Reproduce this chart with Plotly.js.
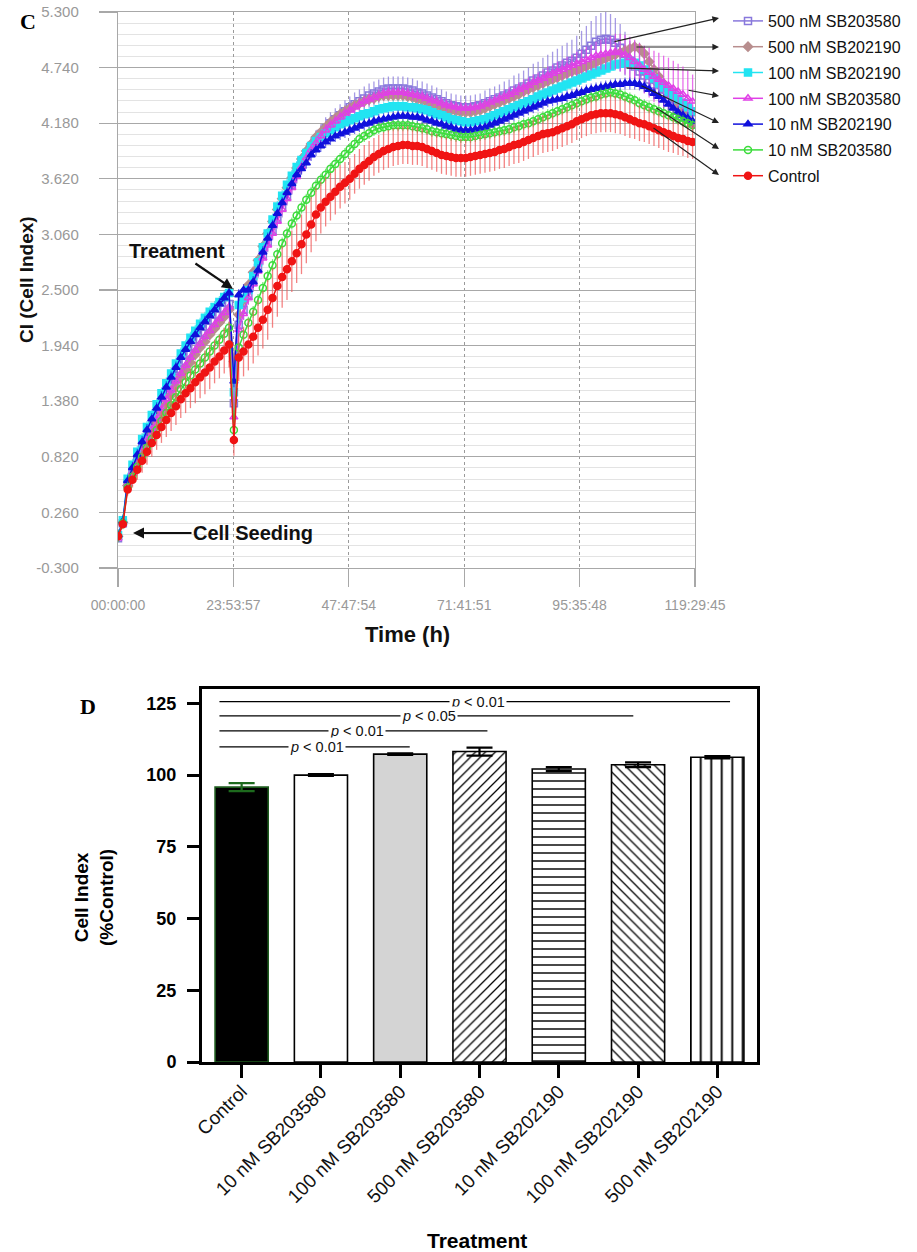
<!DOCTYPE html>
<html><head><meta charset="utf-8">
<script src="https://cdn.plot.ly/plotly-3.0.1.min.js"></script>
<style>html,body{margin:0;padding:0;background:#fff}#chart{width:917px;height:1252px}</style>
</head><body><div id="chart"></div>
<script>
// ---------------- Panel C data (time course) ----------------
const timeHours = [0,1,2,3,4,5,6,7,8,9,10,11,12,13,14,15,16,17,18,19,20,21,22,23,24,25,26,27,28,29,30,31,32,33,34,35,36,37,38,39,40,41,42,43,44,45,46,47,48,49,50,51,52,53,54,55,56,57,58,59,60,61,62,63,64,65,66,67,68,69,70,71,72,73,74,75,76,77,78,79,80,81,82,83,84,85,86,87,88,89,90,91,92,93,94,95,96,97,98,99,100,101,102,103,104,105,106,107,108,109,110,111,112,113,114,115,116,117,118,119];
const timeTickVals = [0, 23.89917, 47.79833, 71.6975, 95.59667, 119.49583];
const timeTickText = ['00:00:00','23:53:57','47:47:54','71:41:51','95:35:48','119:29:45'];
const ciTickVals = [-0.3,0.26,0.82,1.38,1.94,2.5,3.06,3.62,4.18,4.74,5.3];
const ciTickText = ['-0.300','0.260','0.820','1.380','1.940','2.500','3.060','3.620','4.180','4.740','5.300'];

const sb203580_500 = [0.00,0.15,0.55,0.67,0.78,0.90,1.01,1.11,1.22,1.32, 1.42,1.52,1.61,1.70,1.78,1.86,1.93,2.00,2.06,2.12, 2.18,2.24,2.30,2.36, 1.36, 2.15,2.30,2.45,2.58,2.72, 2.85,2.98,3.10,3.22,3.33,3.45,3.56,3.67,3.77,3.86, 3.94,4.01,4.07,4.13,4.18,4.22,4.26,4.30,4.34,4.37, 4.40,4.43,4.46,4.48,4.50,4.52,4.53,4.53,4.53,4.53, 4.52,4.51,4.49,4.48,4.46,4.44,4.42,4.40,4.38,4.36, 4.35,4.34,4.34,4.34,4.35,4.36,4.38,4.40,4.42,4.44, 4.46,4.48,4.51,4.53,4.55,4.58,4.61,4.63,4.66,4.69, 4.71,4.74,4.76,4.79,4.81,4.84,4.88,4.92,4.96,5.00, 5.02,5.03,5.02,4.99,4.94,4.88,4.81,4.75,4.70,4.66, 4.62,4.57,4.52,4.47,4.42,4.37,4.32,4.28,4.25,4.22];
const sb203580_500Err = [0.01,0.02,0.04,0.05,0.06,0.06,0.07,0.07,0.08,0.08, 0.08,0.08,0.08,0.09,0.09,0.09,0.09,0.09,0.09,0.09, 0.09,0.09,0.09,0.09, 0.10, 0.10,0.10,0.10,0.10,0.10, 0.10,0.10,0.10,0.10,0.10,0.10,0.10,0.10,0.10,0.10, 0.10,0.10,0.10,0.11,0.11,0.11,0.11,0.11,0.11,0.12, 0.12,0.12,0.12,0.12,0.12,0.12,0.12,0.12,0.12,0.12, 0.12,0.12,0.12,0.12,0.12,0.12,0.12,0.12,0.12,0.12, 0.12,0.12,0.12,0.12,0.12,0.12,0.13,0.13,0.13,0.13, 0.14,0.14,0.15,0.15,0.16,0.16,0.17,0.17,0.18,0.18, 0.19,0.19,0.20,0.20,0.21,0.22,0.23,0.24,0.25,0.26, 0.27,0.27,0.26,0.25,0.24,0.22,0.20,0.18,0.17,0.16, 0.15,0.15,0.14,0.14,0.13,0.13,0.12,0.12,0.12,0.12];
const sb202190_500 = [0.02,0.16,0.53,0.64,0.75,0.86,0.96,1.06,1.16,1.26, 1.35,1.44,1.53,1.62,1.70,1.77,1.85,1.92,1.98,2.05, 2.11,2.17,2.23,2.30, 1.78, 2.25,2.40,2.55,2.68,2.80, 2.94,3.07,3.19,3.31,3.42,3.53,3.63,3.73,3.82,3.90, 3.97,4.04,4.09,4.14,4.19,4.23,4.27,4.30,4.33,4.36, 4.38,4.40,4.42,4.43,4.45,4.46,4.46,4.46,4.46,4.46, 4.45,4.44,4.42,4.41,4.39,4.37,4.36,4.34,4.32,4.31, 4.30,4.29,4.29,4.29,4.30,4.31,4.33,4.35,4.37,4.39, 4.41,4.43,4.45,4.47,4.50,4.52,4.54,4.56,4.58,4.60, 4.62,4.64,4.66,4.68,4.70,4.71,4.73,4.75,4.77,4.79, 4.81,4.83,4.85,4.87,4.89,4.91,4.93,4.95,4.93,4.88, 4.80,4.72,4.65,4.58,4.51,4.44,4.37,4.30,4.23,4.17];
const sb202190_100 = [0.03,0.18,0.60,0.74,0.87,1.00,1.12,1.24,1.35,1.46, 1.56,1.66,1.76,1.86,1.94,2.02,2.09,2.16,2.22,2.28, 2.33,2.38,2.43,2.47, 1.47, 2.35,2.42,2.50,2.64,2.78, 2.93,3.07,3.21,3.34,3.45,3.56,3.65,3.74,3.81,3.88, 3.95,4.00,4.04,4.08,4.11,4.14,4.17,4.19,4.21,4.23, 4.25,4.27,4.28,4.30,4.32,4.33,4.34,4.35,4.35,4.35, 4.34,4.34,4.33,4.32,4.31,4.29,4.27,4.26,4.24,4.22, 4.21,4.20,4.19,4.19,4.20,4.21,4.22,4.24,4.26,4.28, 4.30,4.32,4.34,4.36,4.38,4.40,4.42,4.45,4.47,4.49, 4.51,4.53,4.55,4.57,4.59,4.61,4.63,4.65,4.67,4.69, 4.71,4.73,4.75,4.77,4.78,4.79,4.80,4.79,4.76,4.72, 4.67,4.63,4.58,4.54,4.50,4.46,4.42,4.38,4.34,4.30];
const sb203580_100 = [0.00,0.15,0.54,0.66,0.77,0.88,0.99,1.10,1.20,1.30, 1.40,1.49,1.58,1.66,1.74,1.82,1.89,1.96,2.03,2.09, 2.15,2.21,2.27,2.33, 1.22, 2.10,2.26,2.42,2.56,2.69, 2.82,2.95,3.07,3.19,3.31,3.42,3.53,3.64,3.74,3.83, 3.91,3.98,4.05,4.11,4.16,4.20,4.24,4.28,4.31,4.34, 4.37,4.40,4.42,4.44,4.46,4.48,4.49,4.49,4.49,4.49, 4.48,4.47,4.46,4.45,4.43,4.41,4.40,4.38,4.36,4.35, 4.34,4.33,4.33,4.33,4.34,4.35,4.37,4.39,4.41,4.43, 4.45,4.47,4.49,4.52,4.54,4.56,4.59,4.61,4.63,4.66, 4.68,4.70,4.72,4.74,4.76,4.78,4.80,4.82,4.84,4.86, 4.87,4.88,4.89,4.90,4.89,4.87,4.84,4.80,4.76,4.72, 4.69,4.65,4.62,4.59,4.56,4.53,4.50,4.47,4.43,4.40];
const sb203580_100Err = [0.01,0.02,0.03,0.04,0.04,0.05,0.05,0.05,0.05,0.05, 0.05,0.05,0.05,0.05,0.05,0.05,0.05,0.05,0.05,0.05, 0.05,0.05,0.05,0.05, 0.06, 0.06,0.06,0.06,0.06,0.06, 0.06,0.06,0.06,0.06,0.06,0.06,0.06,0.06,0.06,0.06, 0.06,0.06,0.06,0.06,0.06,0.06,0.06,0.06,0.06,0.06, 0.06,0.06,0.06,0.06,0.06,0.06,0.06,0.06,0.06,0.06, 0.06,0.06,0.06,0.06,0.06,0.06,0.06,0.06,0.06,0.06, 0.06,0.06,0.06,0.06,0.06,0.06,0.06,0.06,0.06,0.06, 0.07,0.07,0.07,0.07,0.08,0.08,0.08,0.08,0.09,0.09, 0.09,0.10,0.10,0.11,0.11,0.12,0.12,0.13,0.13,0.14, 0.15,0.16,0.17,0.18,0.19,0.20,0.21,0.22,0.23,0.24, 0.25,0.26,0.27,0.27,0.28,0.28,0.28,0.28,0.28,0.27];
const sb202190_10 = [0.03,0.17,0.58,0.71,0.84,0.97,1.09,1.20,1.31,1.42, 1.52,1.62,1.72,1.82,1.90,1.98,2.05,2.12,2.18,2.24, 2.30,2.36,2.42,2.47, 1.58, 2.45,2.50,2.50,2.58,2.70, 2.88,3.02,3.15,3.27,3.38,3.48,3.57,3.66,3.72,3.78, 3.86,3.91,3.95,3.99,4.02,4.05,4.07,4.09,4.11,4.13, 4.15,4.17,4.18,4.20,4.21,4.22,4.23,4.24,4.25,4.25, 4.25,4.24,4.24,4.23,4.21,4.20,4.18,4.17,4.15,4.14, 4.12,4.11,4.11,4.11,4.12,4.13,4.14,4.16,4.18,4.20, 4.22,4.24,4.26,4.28,4.30,4.32,4.34,4.36,4.38,4.40, 4.41,4.42,4.43,4.45,4.46,4.48,4.49,4.51,4.52,4.53, 4.54,4.55,4.56,4.57,4.57,4.58,4.58,4.58,4.57,4.55, 4.52,4.48,4.45,4.41,4.37,4.33,4.29,4.26,4.23,4.20];
const sb203580_10 = [0.02,0.15,0.51,0.62,0.72,0.82,0.91,1.00,1.09,1.18, 1.26,1.34,1.42,1.50,1.57,1.64,1.70,1.76,1.82,1.88, 1.94,2.00,2.06,2.12, 1.09, 1.92,2.05,2.17,2.28,2.40, 2.52,2.64,2.75,2.86,2.97,3.07,3.17,3.25,3.33,3.41, 3.48,3.55,3.61,3.66,3.72,3.77,3.82,3.87,3.92,3.97, 4.02,4.05,4.08,4.11,4.13,4.14,4.15,4.16,4.16,4.16, 4.16,4.15,4.14,4.13,4.12,4.10,4.09,4.08,4.07,4.06, 4.05,4.04,4.04,4.04,4.05,4.06,4.07,4.08,4.09,4.10, 4.11,4.12,4.14,4.15,4.17,4.18,4.20,4.22,4.24,4.26, 4.28,4.30,4.32,4.34,4.36,4.38,4.40,4.42,4.44,4.45, 4.47,4.48,4.49,4.48,4.47,4.45,4.43,4.41,4.38,4.36, 4.34,4.32,4.30,4.28,4.26,4.24,4.22,4.20,4.18,4.16];
const control = [0.02,0.14,0.49,0.59,0.69,0.78,0.87,0.96,1.04,1.12, 1.19,1.26,1.33,1.40,1.46,1.51,1.57,1.62,1.67,1.72, 1.78,1.83,1.89,1.95, 0.99, 1.82,1.88,1.95,2.03,2.12, 2.20,2.30,2.42,2.54,2.63,2.71,2.79,2.87,2.96,3.06, 3.16,3.26,3.33,3.39,3.44,3.49,3.54,3.58,3.62,3.67, 3.72,3.76,3.80,3.84,3.87,3.90,3.92,3.94,3.95,3.96, 3.96,3.95,3.95,3.94,3.92,3.90,3.88,3.86,3.85,3.84, 3.83,3.83,3.83,3.84,3.85,3.86,3.87,3.88,3.89,3.91, 3.92,3.94,3.96,3.97,3.99,4.01,4.03,4.05,4.07,4.08, 4.09,4.11,4.13,4.15,4.17,4.20,4.22,4.24,4.26,4.27, 4.28,4.28,4.28,4.27,4.26,4.24,4.22,4.20,4.18,4.17, 4.15,4.13,4.11,4.09,4.07,4.05,4.03,4.02,4.00,3.99];
const controlErr = [0.02,0.03,0.06,0.08,0.10,0.12,0.13,0.14,0.15,0.16, 0.17,0.18,0.19,0.19,0.20,0.20,0.21,0.21,0.22,0.22, 0.22,0.22,0.23,0.23, 0.16, 0.24,0.25,0.26,0.27,0.28, 0.29,0.30,0.30,0.31,0.31,0.31,0.31,0.30,0.30,0.29, 0.28,0.27,0.26,0.25,0.24,0.23,0.22,0.21,0.21,0.20, 0.20,0.20,0.20,0.19,0.19,0.19,0.19,0.19,0.19,0.19, 0.19,0.19,0.19,0.19,0.19,0.19,0.19,0.19,0.19,0.19, 0.19,0.19,0.19,0.19,0.19,0.19,0.19,0.19,0.19,0.19, 0.19,0.19,0.19,0.19,0.19,0.19,0.19,0.19,0.19,0.19, 0.19,0.19,0.19,0.19,0.19,0.19,0.19,0.19,0.19,0.19, 0.19,0.19,0.19,0.19,0.19,0.19,0.19,0.18,0.18,0.18, 0.18,0.18,0.18,0.18,0.18,0.17,0.17,0.17,0.17,0.17];
const otherSeriesError = 0.06;

// ---------------- Panel D data (bars) ----------------
const barCategories = ['Control','10 nM SB203580','100 nM SB203580','500 nM SB203580','10 nM SB202190','100 nM SB202190','500 nM SB202190'];
const barValues = [95.8, 100.0, 107.3, 108.2, 102.1, 103.6, 106.2];
const barErrors = [1.4, 0.3, 0.3, 1.4, 0.7, 0.8, 0.4];
const barTickVals = [0,25,50,75,100,125];

// ---------------- helpers (layout positions in pixels) ----------------
const W = 917, H = 1252;
const px = v => v / W;
const py = v => 1 - v / H;

const seriesDefs = [
  {name:'500 nM SB203580', y:sb203580_500, err:sb203580_500Err, color:'#8878dc', errColor:'rgba(136,120,220,0.75)', symbol:'square-open'},
  {name:'500 nM SB202190', y:sb202190_500, err:null, color:'#b88e8e', errColor:'rgba(184,142,142,0.7)', symbol:'diamond'},
  {name:'100 nM SB202190', y:sb202190_100, err:null, color:'#22e4f2', errColor:'rgba(34,228,242,0.7)', symbol:'square'},
  {name:'100 nM SB203580', y:sb203580_100, err:sb203580_100Err, color:'#e040e6', errColor:'rgba(224,64,230,0.75)', symbol:'triangle-up-open'},
  {name:'10 nM SB202190', y:sb202190_10, err:null, color:'#1010dc', errColor:'rgba(16,16,220,0.6)', symbol:'triangle-up'},
  {name:'10 nM SB203580', y:sb203580_10, err:null, color:'#3cdc3c', errColor:'rgba(60,220,60,0.7)', symbol:'circle-open'},
  {name:'Control', y:control, err:controlErr, color:'#f01414', errColor:'rgba(240,90,90,0.75)', symbol:'circle'}
];

const traces = seriesDefs.map((s, i) => ({
  type:'scatter', mode:'lines+markers', x:timeHours, y:s.y, name:s.name,
  legendgroup:'g'+i, xaxis:'x', yaxis:'y',
  line:{color:s.color, width:1.5},
  marker:{symbol:s.symbol, size:7, color:s.color, line:{color:s.color, width:1.5}},
  error_y: s.err ? {type:'data', array:s.err, visible:true, color:s.errColor, thickness:1.3, width:0}
                 : {type:'constant', value:otherSeriesError, visible:true, color:s.errColor, thickness:1.2, width:0}
}));

// bar styles
const barFill = ['#000000','#ffffff','#d4d4d4','#ffffff','#ffffff','#ffffff','#ffffff'];
const barPattern = ['','','','/','-','\\','|'];
const barPatternSize = [8,8,8,7,8,7,10.5];
const barLine = ['#1d5a1d','#000','#000','#000','#000','#000','#000'];
const barErrColor = ['#1d6a1d','#000','#000','#000','#000','#000','#000'];

barCategories.forEach((c, i) => {
  traces.push({
    type:'bar', x:[c], y:[barValues[i]], xaxis:'x2', yaxis:'y2', showlegend:false, width:0.67,
    marker:{color:barFill[i], line:{color:barLine[i], width:1.6},
      pattern: barPattern[i] ? {shape:barPattern[i], fgcolor:'#000', bgcolor:'#fff', size:barPatternSize[i], solidity:0.18} : {shape:''}},
    error_y:{type:'data', array:[barErrors[i]], symmetric:true, visible:true, color:barErrColor[i], thickness:2.2, width:13}
  });
});

const boldFont = (s, c) => ({family:'Liberation Sans, Arial, sans-serif', size:s, color:c || '#000', weight:'bold'});
const txt = (text, x, y, font, extra) => Object.assign({text:text, x:px(x), y:py(y), xref:'paper', yref:'paper', xanchor:'center', yanchor:'middle', showarrow:false, font:font}, extra || {});

const annotations = [
  txt('C', 28, 22, {family:'Liberation Serif, Times New Roman, serif', size:22, color:'#000', weight:'bold'}),
  txt('D', 88, 706, {family:'Liberation Serif, Times New Roman, serif', size:22, color:'#000', weight:'bold'}),
  txt('CI (Cell Index)', 26, 280, boldFont(19,'#111'), {textangle:-90}),
  txt('Time (h)', 407, 634, boldFont(22,'#111')),
  txt('Cell Index<br>(%Control)', 94, 898, boldFont(19), {textangle:-90}),
  txt('Treatment', 477, 1240, boldFont(21)),
  {text:'Treatment', x:px(233), y:py(289), ax:177-233, ay:251-289, xref:'paper', yref:'paper', showarrow:true, arrowhead:2, arrowsize:1, arrowwidth:2.2, arrowcolor:'#111', font:boldFont(20,'#111')},
  {text:'Cell Seeding', x:px(133), y:py(533), ax:253-133, ay:0, xref:'paper', yref:'paper', showarrow:true, arrowhead:2, arrowsize:1, arrowwidth:2.2, arrowcolor:'#111', font:boldFont(20,'#111')}
];

// legend pointer arrows: [headX, headY, tailX, tailY]
const pointerArrows = [[719,18,613,42],[719,47,635,47],[719,71,625,68],[719,96,687,90],[719,123,640,85],[719,149,655,107],[719,175,652,127]];
pointerArrows.forEach(a => annotations.push({text:'', x:px(a[0]), y:py(a[1]), ax:a[2]-a[0], ay:a[3]-a[1], xref:'paper', yref:'paper', showarrow:true, arrowhead:2, arrowsize:1.1, arrowwidth:1.2, arrowcolor:'#222', standoff:0}));

// significance brackets (in bar-axis units)
const sig = [
  {y:125.6, x0:-0.28, x1:6.16, lx:2.98, t:'<i>p</i> < 0.01'},
  {y:120.6, x0:-0.28, x1:4.94, lx:2.36, t:'<i>p</i> < 0.05'},
  {y:115.4, x0:-0.28, x1:3.10, lx:1.46, t:'<i>p</i> < 0.01'},
  {y:109.8, x0:-0.28, x1:2.12, lx:0.95, t:'<i>p</i> < 0.01'}
];
const shapes = [];
sig.forEach(s => {
  shapes.push({type:'line', xref:'x2', yref:'y2', x0:s.x0, x1:s.x1, y0:s.y, y1:s.y, line:{color:'#000', width:1.2}});
  annotations.push({text:s.t, x:s.lx, y:s.y, xref:'x2', yref:'y2', xanchor:'center', yanchor:'middle', showarrow:false, bgcolor:'#fff', borderpad:1, font:{family:'Liberation Sans, Arial, sans-serif', size:14.5, color:'#111'}});
});

const layout = {
  width:W, height:H, margin:{l:0, r:0, t:0, b:0}, paper_bgcolor:'#fff', plot_bgcolor:'#fff',
  font:{family:'Liberation Sans, Arial, sans-serif'},
  showlegend:true,
  legend:{x:px(728), y:py(4), xanchor:'left', yanchor:'top', tracegroupgap:2, font:{size:16, color:'#111', family:'Liberation Sans, Arial, sans-serif'}, bgcolor:'rgba(0,0,0,0)', itemclick:false},
  xaxis:{domain:[px(118), px(695)], anchor:'y', range:[0, 119.49583], tickmode:'array', tickvals:timeTickVals, ticktext:timeTickText,
    showgrid:true, gridcolor:'#9a9a9a', griddash:'dot', gridwidth:1, zeroline:false,
    showline:true, mirror:true, linecolor:'#a8a8a8', linewidth:1.2,
    ticks:'outside', ticklen:18, tickcolor:'#a8a8a8', tickwidth:1.2, ticklabelstandoff:6,
    tickfont:{size:14, color:'#999'}},
  yaxis:{domain:[py(568), py(12)], anchor:'x', range:[-0.3, 5.3], tickmode:'array', tickvals:ciTickVals, ticktext:ciTickText,
    showgrid:true, gridcolor:'#a8a8a8', gridwidth:1, zeroline:false,
    minor:{tick0:-0.3, dtick:0.112, showgrid:true, gridcolor:'#e3e3e3', gridwidth:1, ticks:''},
    showline:true, mirror:true, linecolor:'#a8a8a8', linewidth:1.2,
    ticks:'outside', ticklen:18, tickcolor:'#a8a8a8', tickwidth:1.2, ticklabelstandoff:17,
    tickfont:{size:15, color:'#999'}},
  xaxis2:{domain:[px(202), px(757)], anchor:'y2', type:'category', categoryorder:'array', categoryarray:barCategories, range:[-0.5, 6.5],
    showgrid:false, zeroline:false, showline:true, mirror:true, linecolor:'#000', linewidth:3,
    ticks:'outside', ticklen:13, tickwidth:3, tickcolor:'#000', tickangle:-45, ticklabelstandoff:-5,
    tickfont:{size:19, color:'#111'}},
  yaxis2:{domain:[py(1062), py(689)], anchor:'x2', range:[0, 130], tickmode:'array', tickvals:barTickVals,
    showgrid:false, zeroline:false, showline:true, mirror:true, linecolor:'#000', linewidth:3,
    ticks:'outside', ticklen:12, tickwidth:3, tickcolor:'#000', ticklabelstandoff:7,
    tickfont:boldFont(18)},
  barmode:'overlay',
  annotations:annotations, shapes:shapes
};

Plotly.newPlot('chart', traces, layout, {displayModeBar:false, staticPlot:true});
</script>
</body></html>
